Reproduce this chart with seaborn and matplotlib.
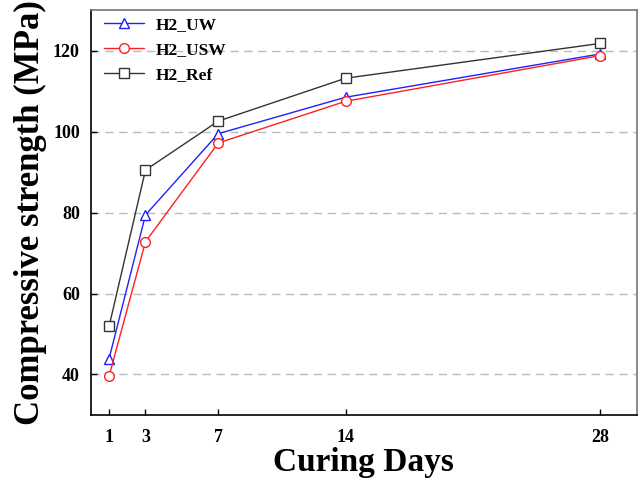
import matplotlib
matplotlib.use("Agg")
import matplotlib.pyplot as plt
import pandas as pd
import seaborn as sns

# curing age (days) and compressive strength (MPa)
days = [1, 3, 7, 14, 28]
h2_uw = [43.9, 79.4, 99.5, 108.5, 119.2]
h2_usw = [39.6, 72.8, 97.2, 107.5, 118.8]
h2_ref = [51.9, 90.5, 102.6, 113.2, 121.8]

series = [
    ("H2_UW", h2_uw, "#2020ff", "^"),
    ("H2_USW", h2_usw, "#ff2020", "o"),
    ("H2_Ref", h2_ref, "#333333", "s"),
]

sns.set_theme(style="white")
plt.rcParams["font.family"] = ["Liberation Serif", "DejaVu Serif"]
plt.rcParams["font.weight"] = "bold"
plt.rcParams["text.color"] = "black"
plt.rcParams["axes.labelcolor"] = "black"
plt.rcParams["xtick.color"] = "black"
plt.rcParams["ytick.color"] = "black"

fig = plt.figure(figsize=(6.4, 4.87), dpi=100)
ax = fig.add_axes([0.142, 0.148, 0.853, 0.831])

for name, vals, color, marker in series:
    df = pd.DataFrame({"day": days, "strength": vals})
    sns.lineplot(data=df, x="day", y="strength", ax=ax, color=color,
                 marker=marker, markersize=7, markerfacecolor="white",
                 markeredgecolor=color, markeredgewidth=1.0,
                 linewidth=1.0, label=name)

ax.set_xlim(0, 30)
ax.set_ylim(30, 130)
ax.set_xticks(days)
ax.set_yticks([40, 60, 80, 100, 120])
ax.yaxis.grid(True, linestyle=(0, (6, 4)), color="#bbbbbb", linewidth=1)
ax.tick_params(direction="in", length=4, width=1, labelsize=13,
               bottom=True, left=True)
ax.tick_params(axis="y", pad=8)
ax.tick_params(axis="x", pad=10)
for lbl in ax.get_xticklabels() + ax.get_yticklabels():
    lbl.set_fontweight("bold")

for side in ("left", "bottom"):
    ax.spines[side].set_color("black")
    ax.spines[side].set_linewidth(1.2)
for side in ("top", "right"):
    ax.spines[side].set_color("#777777")
    ax.spines[side].set_linewidth(1.2)

ax.set_xlabel("Curing Days", fontsize=24, fontweight="bold", labelpad=1)
ax.set_ylabel("Compressive strength (MPa)", fontsize=25, fontweight="bold", labelpad=4)

leg = ax.legend(loc="upper left", bbox_to_anchor=(0.011, 1.0), frameon=False,
                fontsize=12.5, handlelength=2.3, borderaxespad=0.1, borderpad=0.3,
                labelspacing=0.5, handletextpad=0.7)
for t in leg.get_texts():
    t.set_fontweight("bold")

fig.savefig("out.png", dpi=100)
